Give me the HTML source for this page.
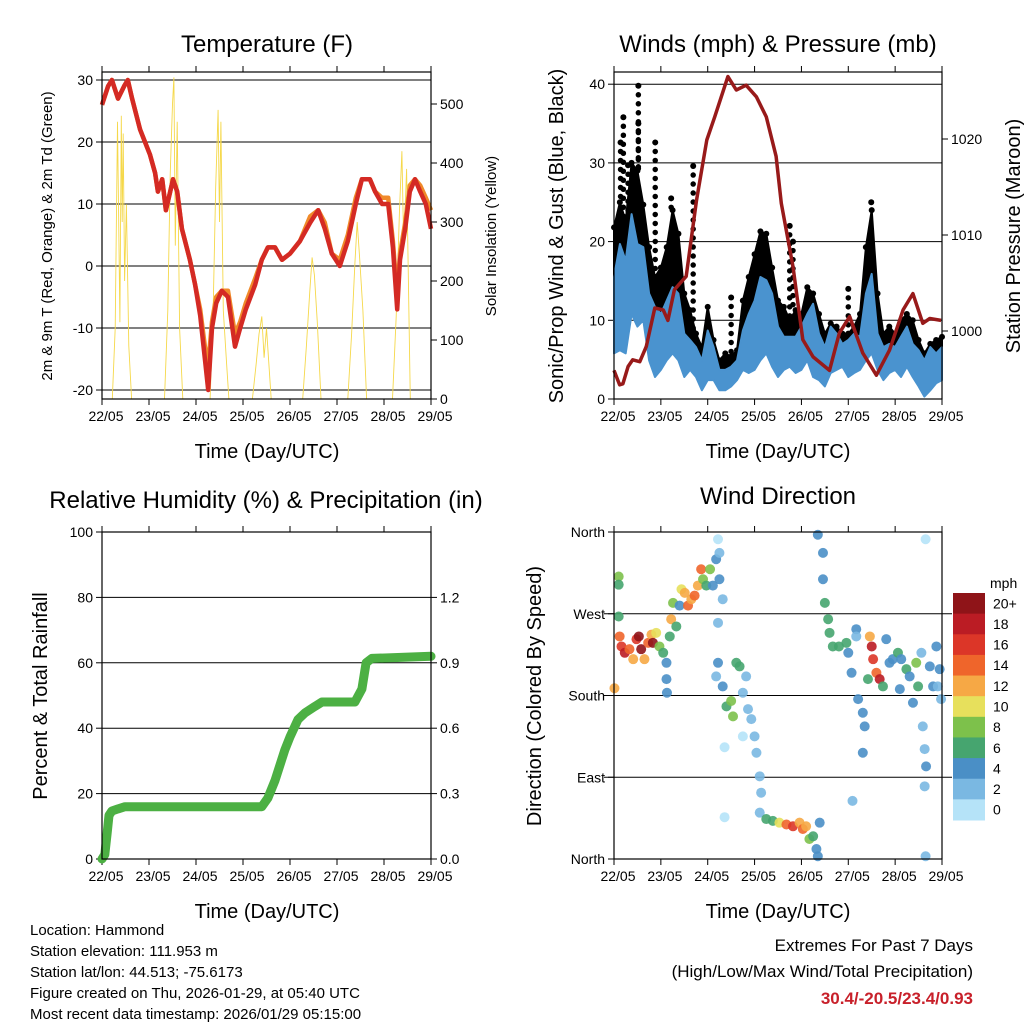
<!DOCTYPE html>
<html><head><meta charset="utf-8"><style>
html,body{margin:0;padding:0;background:#fff}
svg{display:block;font-family:"Liberation Sans",Arial,sans-serif}
</style></head><body>
<svg id="s" width="1024" height="1024" viewBox="0 0 1024 1024" xmlns="http://www.w3.org/2000/svg">
<text x="267" y="52" font-size="24" text-anchor="middle">Temperature (F)</text>
<text x="778" y="52" font-size="24" text-anchor="middle">Winds (mph) &amp; Pressure (mb)</text>
<text x="266" y="508" font-size="24" text-anchor="middle">Relative Humidity (%) &amp; Precipitation (in)</text>
<text x="778" y="504" font-size="24" text-anchor="middle">Wind Direction</text>
<text x="267" y="458" font-size="20" text-anchor="middle">Time (Day/UTC)</text>
<text x="778" y="458" font-size="20" text-anchor="middle">Time (Day/UTC)</text>
<text x="267" y="918" font-size="20" text-anchor="middle">Time (Day/UTC)</text>
<text x="778" y="918" font-size="20" text-anchor="middle">Time (Day/UTC)</text>
<text transform="translate(52,236) rotate(-90)" font-size="15" text-anchor="middle">2m &amp; 9m T (Red, Orange) &amp; 2m Td (Green)</text>
<text transform="translate(496,236) rotate(-90)" font-size="15" text-anchor="middle">Solar Insolation (Yellow)</text>
<text transform="translate(563,236) rotate(-90)" font-size="20" text-anchor="middle">Sonic/Prop Wind &amp; Gust (Blue, Black)</text>
<text transform="translate(1020,236) rotate(-90)" font-size="20" text-anchor="middle">Station Pressure (Maroon)</text>
<text transform="translate(47,696) rotate(-90)" font-size="20" text-anchor="middle">Percent &amp; Total Rainfall</text>
<text transform="translate(541,696) rotate(-90)" font-size="20" text-anchor="middle">Direction (Colored By Speed)</text>
<g font-size="15">
<text x="30" y="935">Location: Hammond</text>
<text x="30" y="956">Station elevation: 111.953 m</text>
<text x="30" y="977">Station lat/lon: 44.513; -75.6173</text>
<text x="30" y="998">Figure created on Thu, 2026-01-29, at 05:40 UTC</text>
<text x="30" y="1019">Most recent data timestamp: 2026/01/29 05:15:00</text>
</g>
<g font-size="17" text-anchor="end">
<text x="973" y="951">Extremes For Past 7 Days</text>
<text x="973" y="977">(High/Low/Max Wind/Total Precipitation)</text>
<text x="973" y="1004" fill="#c8202a" font-weight="bold">30.4/-20.5/23.4/0.93</text>
</g>
</svg>
<script>
// ---- data ----
const dayLabels=["22/05","23/05","24/05","25/05","26/05","27/05","28/05","29/05"];
const tempT=[0,.13,.21,.34,.47,.55,.64,.81,1.02,1.13,1.19,1.28,1.36,1.45,1.51,1.6,1.7,1.87,1.98,2.09,2.19,2.26,2.34,2.43,2.55,2.68,2.83,2.94,3.06,3.26,3.4,3.53,3.68,3.83,4,4.21,4.43,4.6,4.74,4.89,5.06,5.23,5.4,5.53,5.7,5.81,5.96,6.09,6.19,6.28,6.34,6.45,6.55,6.66,6.77,6.89,7];
const temp2m=[26,29,30,27,29,30,27,22,18,15,12,14,9,12,14,12,6,1,-3,-8,-15,-20,-10,-6,-4,-5,-13,-10,-7,-3,1,3,3,1,2,4,7,9,6,2,0,4,10,14,14,12,10,10,3,-7,1,6,12,14,12,10,6];
const temp9m=[26,29,30,27,29,30,27,22,18,15,12,14,9,12,14,12,6,1,-3,-7,-13,-16,-9,-5,-4,-4,-11,-9,-6,-2,1,3,3,1,2,4,8,9,7,2,1,5,11,14,14,12,11,11,4,-5,2,7,13,14,13,11,9];
const solarT=[0.22,0.28,0.33,0.38,0.41,0.43,0.45,0.48,0.52,0.57,0.63,1.33,1.4,1.45,1.5,1.53,1.56,1.6,1.65,1.72,2.3,2.36,2.42,2.47,2.5,2.53,2.58,2.65,2.7,3.2,3.28,3.34,3.4,3.45,3.5,3.6,4.27,4.35,4.42,4.47,4.52,4.58,4.66,5.23,5.31,5.38,5.43,5.48,5.55,5.63,6.18,6.26,6.33,6.38,6.42,6.48,6.56];
const solarV=[0,120,470,130,480,300,450,200,330,90,0,0,150,380,500,545,260,470,120,0,0,130,360,490,300,470,150,60,0,0,60,110,140,70,120,0,0,90,180,240,210,130,0,0,110,230,300,240,150,0,0,140,320,420,260,390,0];
const windT=[0,.125,.25,.375,.5,.625,.75,.875,1,1.125,1.25,1.375,1.5,1.625,1.75,1.875,2,2.125,2.25,2.375,2.5,2.625,2.75,2.875,3,3.125,3.25,3.375,3.5,3.625,3.75,3.875,4,4.125,4.25,4.375,4.5,4.625,4.75,4.875,5,5.125,5.25,5.375,5.5,5.625,5.75,5.875,6,6.125,6.25,6.375,6.5,6.625,6.75,6.875,7];
const windLo=[5.8,6.2,5.8,10.8,9.2,10,4.9,2.8,3.7,4.9,5.8,4.9,2.8,3.7,2.8,1.1,2.4,2.4,1.1,1.1,1.6,2.4,3.7,3.3,3.7,4.9,5.8,4.1,2.8,3.7,4.1,3.3,3.7,4.9,2.8,2.4,1.6,3.3,3.7,4.1,2.8,3.3,3.7,4.9,5.8,3.7,2.4,3.3,3.7,2.8,4.1,2.8,1.6,0.3,1.1,2,2.4];
const windHi=[15.5,19.7,17.6,23.5,19.7,19.3,13.4,11.7,10.8,12.5,14.2,13.4,8.3,7.5,6.6,4.9,8.7,6.6,3.7,3.7,4.1,4.9,8.7,10.8,12.5,15.5,15.1,13.4,9.2,7.9,7.9,7.9,9.2,10.8,12.1,8.3,6.6,9.2,8.3,7,7.5,8.3,7.9,13.4,15.9,8.3,6.6,7,6.6,7.9,9.2,7,6.2,4.9,6.6,5.8,6.6];
const gustHi=[21.8,25,22.6,30,29,24.7,19.3,15.5,16.7,19.3,24,21,13.4,11.3,8.3,6.6,11.7,7.5,4.9,5.8,5.4,6.2,12.5,15.5,18.4,21.3,21,16.7,12.5,11.7,10,11.3,10.8,14.2,13.4,10.8,8.3,9.6,9.2,8.3,8.3,9.2,10.8,19.3,24,13.4,8.3,9.2,8.3,10,10.8,10,7.5,5.8,7,7.5,7.9];
const gustPeakT=[0.14,0.2,0.3,0.52,0.52,0.88,1.22,1.69,2.5,3.75,3.82,5.49,5.0];
const gustPeakV=[32.6,35.8,29.7,39.8,35,32.6,25.5,29.6,12.9,22,20,25,14];
const presT=[0,.12,.19,.3,.4,.55,.69,.87,1.05,1.15,1.29,1.54,1.76,1.98,2.15,2.43,2.61,2.82,3.04,3.25,3.46,3.57,3.82,4.03,4.25,4.6,4.81,5.03,5.31,5.6,5.88,6.17,6.38,6.59,6.74,6.98];
const presV=[995.9,994.4,994.5,996.3,997,996.8,998.4,1002.4,1002.2,1001.1,1004.3,1005.7,1013.6,1019.9,1022.3,1026.5,1025.1,1025.6,1024.4,1022.3,1018.2,1013.3,1006.7,999.1,997.3,995.9,999.8,1001.5,997.7,995.4,998,1002.2,1003.9,1000.8,1001.3,1001.1];
const precipT=[0,.06,.11,.15,.21,.34,.49,3.4,3.53,3.68,3.89,4,4.17,4.32,4.53,4.68,5.38,5.53,5.62,5.74,7];
const precipV=[0,.02,.12,.2,.22,.23,.24,.24,.28,.36,.5,.56,.64,.67,.7,.72,.72,.78,.9,.92,.93];
const dirT=[0.01,0.1,0.1,0.1,0.12,0.16,0.23,0.33,0.41,0.48,0.53,0.58,0.65,0.73,0.8,0.83,0.9,0.97,1.05,1.12,1.12,1.13,1.19,1.22,1.26,1.33,1.4,1.44,1.51,1.58,1.65,1.72,1.79,1.86,1.9,1.97,2.05,2.11,2.18,2.25,2.22,2.25,2.32,2.22,2.18,2.22,2.32,2.4,2.5,2.54,2.61,2.68,2.75,2.82,2.86,2.93,3.0,3.04,3.11,3.14,3.11,3.25,3.39,3.53,3.68,3.82,3.96,4.03,4.1,4.17,4.25,4.32,4.35,4.39,2.36,2.36,2.75,4.35,4.46,4.46,4.5,4.57,4.6,4.67,4.8,4.96,5.0,5.07,5.17,5.17,5.21,5.31,5.35,5.31,5.09,5.42,5.46,5.5,5.53,5.6,5.67,5.74,5.81,5.88,5.95,6.06,6.13,6.1,6.24,6.31,6.38,6.45,6.49,6.56,6.59,6.63,6.66,6.63,6.65,6.65,6.74,6.81,6.88,6.95,6.98,6.91];
const dirV=[188,311,302,267,245,234,227,231,220,242,245,231,220,238,247,238,249,234,227,216,198,183,245,264,282,256,279,297,293,279,286,290,301,319,308,301,319,301,330,308,352,337,286,260,201,216,190,168,174,157,216,212,183,201,165,154,135,117,91,73,51,44,42,40,38,36,40,33,36,22,25,11,3,40,123,46,135,357,337,308,282,264,249,234,234,238,227,205,253,245,176,161,146,117,64,198,245,234,220,205,198,190,242,216,220,227,220,187,209,201,172,216,190,227,146,121,102,80,3,352,212,190,234,209,176,190];
const dirS=[13,8,6,6,14,16,18,14,12,16,20,20,12,14,12,20,10,8,6,4,4,4,6,12,8,6,4,10,12,14,12,14,12,14,8,6,8,4,4,4,0,2,2,2,2,4,4,6,8,8,6,6,2,2,2,2,2,2,2,2,2,6,6,10,14,16,12,14,12,8,6,4,4,4,0,0,0,4,4,4,6,6,6,6,6,6,4,4,4,2,4,4,4,4,2,6,12,18,16,14,18,6,4,4,4,6,4,4,6,4,4,8,6,2,2,2,4,2,2,0,4,4,4,4,2,2];
const cbarLabels=["20+","18","16","14","12","10","8","6","4","2","0"];
const cbarColors=["#8f1418","#bb1c24","#dc3628","#ef652b","#f6a845","#e7e05c","#7dc14b","#46a56f","#4a8fc6","#7ab8e2","#b5e3f8"];
const tempTicks=[30,20,10,0,-10,-20];
const solarTicks=[0,100,200,300,400,500];
const windTicks=[0,10,20,30,40];
const presTicks=[1000,1010,1020];
const rhTicks=[0,20,40,60,80,100];
const rainTicks=[0,0.3,0.6,0.9,1.2];
const dirTicks=["North","East","South","West","North"];

// ---- helpers ----
const NS="http://www.w3.org/2000/svg";
const svg=document.getElementById('s');
function mk(tag,attrs,parent){const e=document.createElementNS(NS,tag);for(const k in attrs)e.setAttribute(k,attrs[k]);(parent||svg).appendChild(e);return e;}
function lin(d0,d1,r0,r1){return v=>r0+(v-d0)*(r1-r0)/(d1-d0);}
function pts(xs,ys,fx,fy){return xs.map((t,i)=>fx(t).toFixed(1)+','+fy(ys[i]).toFixed(1)).join(' ');}

function frame(name,x0,x1,y0,y1){
  const g=mk('g',{});
  
  
  const fx=lin(0,7,x0,x1);
  dayLabels.forEach((lab,i)=>{
    const x=fx(i);
    mk('line',{x1:x,x2:x,y1:y1,y2:y1+6,stroke:'#000','stroke-width':1},g);
    mk('line',{x1:x,x2:x,y1:y0,y2:y0-6,stroke:'#000','stroke-width':1},g);
    const t=mk('text',{x:x+4,y:y1+22,'font-size':14,'text-anchor':'middle'},g);
    t.textContent=lab;
    
    
  });
  return {g,fx};
}
function box(x0,x1,y0,y1){
  const r=mk('rect',{x:x0,y:y0,width:x1-x0,height:y1-y0,fill:'none',stroke:'#000','stroke-width':1.2});
  
  
}
function hgrid(g,y,x0,x1){mk('line',{x1:x0,x2:x1,y1:y,y2:y,stroke:'#000','stroke-width':1},g);}
function ytick(g,x,y,label,side){
  mk('line',{x1:x,x2:x+(side<0?-6:6),y1:y,y2:y,stroke:'#000','stroke-width':1},g);
  const t=mk('text',{x:x+(side<0?-9:9),y:y+5,'font-size':14,'text-anchor':side<0?'end':'start'},g);
  t.textContent=label;
  
  
}

// ---- Panel 1: temperature ----
(function(){
  const x0=102,x1=431,y0=72,y1=399;
  const {g,fx}=frame('temperature',x0,x1,y0,y1);
  const fy=lin(-20,30,390,80), fs=lin(0,500,399,104);
  tempTicks.forEach(v=>{hgrid(g,fy(v),x0,x1);ytick(g,x0,fy(v),v,-1);});
  solarTicks.forEach(v=>ytick(g,x1,fs(v),v,1));
  const sol=mk('polyline',{points:pts(solarT,solarV,fx,fs),fill:'none',stroke:'#f5d84a','stroke-width':0.9});
  
  
  const t9=mk('polyline',{points:pts(tempT,temp9m,fx,fy),fill:'none',stroke:'#f08a2a','stroke-width':4.5,'stroke-linejoin':'round'});
  
  
  const t2=mk('polyline',{points:pts(tempT,temp2m,fx,fy),fill:'none',stroke:'#d42a24','stroke-width':4.5,'stroke-linejoin':'round'});
  
  
  box(x0,x1,y0,y1);
})();

// ---- Panel 2: winds & pressure ----
(function(){
  const x0=614,x1=942,y0=72,y1=399;
  const {g,fx}=frame('winds',x0,x1,y0,y1);
  const fy=lin(0,40,399,84.2), fp=lin(1000,1020,331,139);
  windTicks.forEach(v=>{hgrid(g,fy(v),x0,x1);ytick(g,x0,fy(v),v,-1);});
  presTicks.forEach(v=>ytick(g,x1,fp(v),v,1));
  const gb=mk('polygon',{points:pts(windT,gustHi,fx,fy)+' '+pts(windT.slice().reverse(),windHi.slice().reverse(),fx,fy),fill:'#000',stroke:'#000','stroke-width':2,'stroke-linejoin':'round'});
  
  
  windT.forEach((t,i)=>{
    const c=mk('circle',{cx:fx(t),cy:fy(gustHi[i]),r:3,fill:'#000'});
    
    
  });
  gustPeakT.forEach((t,i)=>{
    const c=mk('circle',{cx:fx(t),cy:fy(gustPeakV[i]),r:3,fill:'#000'});
    
    
    const l=mk('line',{x1:fx(t),x2:fx(t),y1:fy(gustPeakV[i]),y2:fy(gustHi[Math.round(t*8)]),stroke:'#000','stroke-width':5.5,'stroke-dasharray':'0 9','stroke-linecap':'round'});
    
    
  });
  const wb=mk('polygon',{points:pts(windT,windHi,fx,fy)+' '+pts(windT.slice().reverse(),windLo.slice().reverse(),fx,fy),fill:'#4a93cf',stroke:'#4a93cf','stroke-width':2,'stroke-linejoin':'round'});
  
  
  const pl=mk('polyline',{points:pts(presT,presV,fx,fp),fill:'none',stroke:'#981a1a','stroke-width':3.5,'stroke-linejoin':'round'});
  
  
  box(x0,x1,y0,y1);
})();

// ---- Panel 3: RH & precipitation ----
(function(){
  const x0=102,x1=431,y0=532,y1=859;
  const {g,fx}=frame('humidity',x0,x1,y0,y1);
  const fy=lin(0,100,859,532), fr=lin(0,1.5,859,532);
  rhTicks.forEach(v=>{if(v>0&&v<100)hgrid(g,fy(v),x0,x1);ytick(g,x0,fy(v),v,-1);});
  rainTicks.forEach(v=>ytick(g,x1,fr(v),v.toFixed(1),1));
  const pl=mk('polyline',{points:pts(precipT,precipV,fx,fr),fill:'none',stroke:'#4cb043','stroke-width':9,'stroke-linejoin':'round','stroke-linecap':'round'});
  
  
  box(x0,x1,y0,y1);
})();

// ---- Panel 4: wind direction ----
(function(){
  const x0=614,x1=942,y0=532,y1=859;
  const {g,fx}=frame('wind-direction',x0,x1,y0,y1);
  const fy=lin(0,360,859,532);
  dirTicks.forEach((lab,i)=>{const y=fy(i*90);if(i>0&&i<4)hgrid(g,y,x0-10,x1+10);ytick(g,x0,y,lab,-1);});
  dirT.forEach((t,i)=>{
    const bin=Math.min(10,Math.floor(dirS[i]/2));
    const c=mk('circle',{cx:fx(t),cy:fy(dirV[i]),r:5,fill:cbarColors[10-bin],'fill-opacity':0.9});
    
    
  });
  box(x0,x1,y0,y1);
  const cb=mk('g',{});
  
  
  const t=mk('text',{x:990,y:588,'font-size':14},cb);t.textContent='mph';
  const h=(820-593)/11;
  cbarColors.forEach((c,i)=>{
    const r=mk('rect',{x:953,y:593+i*h,width:32,height:h+0.5,fill:c},cb);
    
    
    const l=mk('text',{x:993,y:593+i*h+h/2+5,'font-size':14},cb);
    l.textContent=cbarLabels[i];
    
    
  });
})();
</script>
</body></html>
